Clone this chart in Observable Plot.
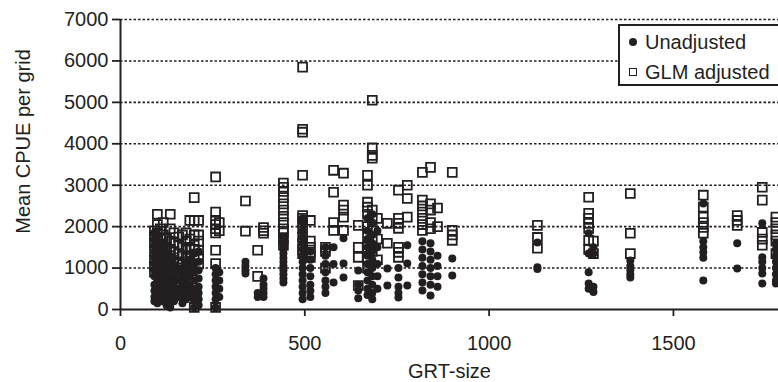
<!DOCTYPE html>
<html><head><meta charset="utf-8">
<script src="https://cdn.jsdelivr.net/npm/d3@7"></script>
<script src="https://cdn.jsdelivr.net/npm/@observablehq/plot@0.6"></script>
<style>
body{margin:0;background:#fff;overflow:hidden}
#wrap{position:relative;width:778px;height:382px;overflow:hidden}
#legend{position:absolute;left:618px;top:24px;width:180px;height:58px;border:2px solid #231f20;background:#fff;font:20px "Liberation Sans",Arial,sans-serif;color:#231f20}
#legend .item{position:absolute;left:9px;height:24px;line-height:24px;display:flex;align-items:center;white-space:nowrap}
#legend .dot{width:8px;height:8px;border-radius:50%;background:#231f20;margin-right:8px}
#legend .sq{width:8px;height:8px;border:1.5px solid #231f20;box-sizing:border-box;margin-right:8px}
</style></head><body>
<div id="wrap"><div id="chart"></div>
<div id="legend"><div class="item" style="top:4px"><span class="dot"></span>Unadjusted</div><div class="item" style="top:34px"><span class="sq"></span>GLM adjusted</div></div></div>
<script>
// GRT-size of each vessel group (x positions)
const grtSizes = [92,100,108,116,125,135,145,158,168,178,188,200,212,258,268,339,372,388,442,494,515,556,578,605,645,670,683,697,724,754,778,819,841,860,900,1131,1270,1283,1383,1581,1673,1741,1778];
// Unadjusted mean CPUE per grid, one list per GRT group
const unadjusted = [
 [1850,1700,1550,1400,1250,1100,950,800,600,450,300,200],
 [1800,1650,1500,1300,1150,1000,850,700,550,400,250,150],
 [1600,1350,1200,1050,900,750,600,450,350,250],
 [1450,1250,1000,800,650,500,350,200],
 [1300,1100,900,700,500,350,250,100],
 [1200,950,750,600,450,300,150,50],
 [1050,800,650,500,350,200],
 [900,700,500,400,300],
 [1000,800,600,450,300,150],
 [1100,900,700,550,400,250],
 [1200,950,800,600,450,300],
 [1350,1100,900,700,500,350,200,50],
 [1400,1150,950,750,550,400,250,100],
 [1000,850,700,550,400,250,50],
 [900,700,500,300],
 [1150,1050,950,870],
 [400,300],
 [750,600,500,400,300],
 [1750,1650,1550,1450,1350,1250,1150,1050,950,850,750,650],
 [2200,2100,1900,1750,1600,1450,1300,1150,1000,850,700,550,400,250],
 [1400,1200,1000,800,600,450,300],
 [1500,1300,1100,900,700,550,400],
 [1500,1100,650],
 [1720,1110,770],
 [940,600,460,270],
 [2200,1900,1700,1500,1300,1100,900,700,500,350],
 [2300,2100,1800,1600,1400,1200,1000,800,600,400,250],
 [1900,1500,1100,800,500],
 [990,580],
 [1000,770,550,400,290],
 [1550,1110,580],
 [1650,1450,1250,1050,850,650,460],
 [1600,1400,1200,1000,800,600,340],
 [1300,1050,800,550],
 [1230,820],
 [1620,1020,980],
 [1840,1350,900,630,500],
 [1500,1350,550,420],
 [1180,1050,950,850,770],
 [2560,1650,1500,1380,1250,700],
 [1600,990],
 [2080,1260,1150,1000,870,630],
 [1600,1450,1300,1150,1000,850,700,630]
];
// GLM adjusted mean CPUE per grid, one list per GRT group
const glmAdjusted = [
 [1900,1750,1600,1400,1200,1050,900],
 [2300,2050,1850,1650,1450,1300,1150,1000],
 [1950,1700,1500,1350,1200,1100],
 [2100,1800,1550,1400,1250],
 [1700,1500,1300,1150],
 [2300,1950,1650,1450,1300,1200,1050],
 [1850,1600,1400,1250,1100],
 [1750,1550,1350,1150,1000],
 [1800,1500,1300,1100],
 [1850,1650,1450,1250,1150],
 [2150,1700,1500,1300],
 [2700,2150,1800,1550,1450,1200,50],
 [2150,1800,1650,1430,1250,1100],
 [3200,2350,2150,2050,1950,1850,1430,1110,50],
 [2100,1900],
 [2620,1890],
 [1430,800],
 [1980,1900,1840],
 [3050,2950,2850,2700,2550,2400,2250,2100,1950,1850,1700,1550],
 [5850,4350,4280,3240,2270,2200,2100,1950,1750,1600,1450,1350],
 [2150,1650,1500,1380,1260],
 [1500,1400,1000],
 [3360,2830,2100,1910],
 [3290,2520,2400,2230,1910],
 [2030,1500,1260,580],
 [3240,3000,2590,2470,2300,2000,1750,1500,1250,1000],
 [5050,3900,3720,3650,2400,2150,1900,1650,1400],
 [2200,1700,1200],
 [2080,1600],
 [2880,2200,2080,1960,1500,1380,1260],
 [3000,2680,2230],
 [3310,2640,2500,2350,2200,2050,1910],
 [3430,2550,2400,2100,1950],
 [2450,2000],
 [3310,1910,1800,1670],
 [2030,1740,1480],
 [2710,2320,2200,2080,1960,1670,1450],
 [1650,1350],
 [2800,1840,1350],
 [2760,2470,2230,2100,1980,1840],
 [2270,2150,2030],
 [2950,2640,1860,1700,1550],
 [2230,2100,1950,1800,1650,1350]
];
const xTicks = [0,500,1000,1500];
const yTicks = [0,1000,2000,3000,4000,5000,6000,7000];
const xLabel = "GRT-size";
const yLabel = "Mean CPUE per grid";

const unadjRows = grtSizes.flatMap((g,i) => unadjusted[i].map(v => ({grt:g, cpue:v})));
const adjRows = grtSizes.flatMap((g,i) => glmAdjusted[i].map(v => ({grt:g, cpue:v})));
const ink = "#231f20";

const chart = Plot.plot({
  width: 778, height: 382,
  marginLeft: 120, marginRight: 0, marginTop: 19, marginBottom: 73,
  x: {domain: [0, 1785]},
  y: {domain: [0, 7000]},
  style: {fontFamily: "'Liberation Sans', Arial, sans-serif", fontSize: "20px", color: ink, background: "#fff"},
  marks: [
    Plot.ruleY(yTicks.slice(1), {stroke: ink, strokeWidth: 1.6, strokeDasharray: "2.5,2"}),
    Plot.axisX({ticks: xTicks, tickSize: 7, tickPadding: 19, label: null, fontSize: 20, strokeWidth: 1.8, tickFormat: d => String(d)}),
    Plot.axisY({ticks: yTicks, tickSize: 8, tickPadding: 4, label: null, fontSize: 20, strokeWidth: 1.8, tickFormat: d => String(d)}),
    Plot.ruleY([0], {stroke: ink, strokeWidth: 2}),
    Plot.ruleX([0], {stroke: ink, strokeWidth: 2}),
    Plot.dot(adjRows, {x: "grt", y: "cpue", symbol: "square", r: 5, stroke: ink, strokeWidth: 1.8, fill: "none"}),
    Plot.dot(unadjRows, {x: "grt", y: "cpue", r: 4, fill: ink, stroke: "none"}),
    Plot.text([xLabel], {frameAnchor: "bottom", dy: 68, fontSize: 20, fill: ink}),
    Plot.text([yLabel], {frameAnchor: "left", textAnchor: "middle", rotate: -90, dx: -97, dy: -23, fontSize: 20, fill: ink})
  ]
});
document.getElementById("chart").appendChild(chart);
</script>
</body></html>
